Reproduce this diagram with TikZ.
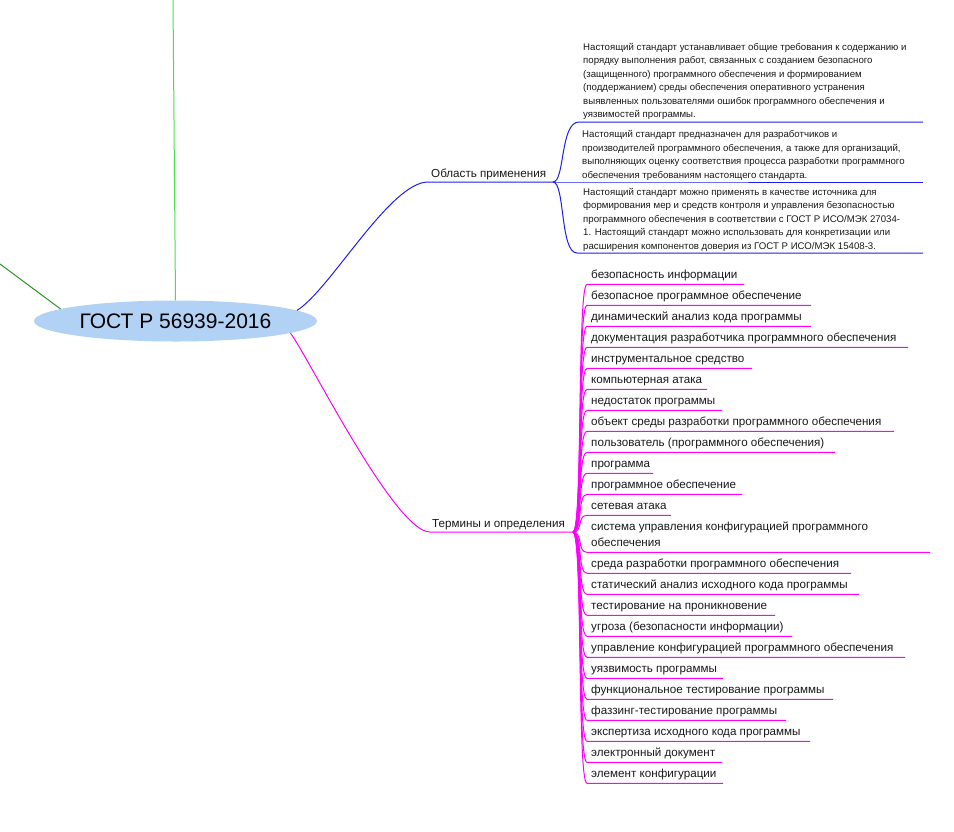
\documentclass[tikz,border=0pt]{standalone}
\usepackage{fontspec}
\setmainfont{Liberation Sans}
\usetikzlibrary{shapes.geometric}
\definecolor{bl}{RGB}{30,30,235}
\definecolor{mg}{RGB}{255,0,255}
\definecolor{lg}{RGB}{70,225,70}
\definecolor{dg}{RGB}{40,150,40}
\definecolor{ell}{RGB}{178,210,245}
\definecolor{txt}{RGB}{25,25,25}
\begin{document}
\begin{tikzpicture}[x=1pt,y=-1pt,
  rootnode/.style={ellipse, fill=ell, minimum width=283pt, minimum height=41pt, inner sep=0pt, font=\fontsize{21}{24}\selectfont, text=black},
  branchlabel/.style={anchor=base west, inner sep=0pt, font=\fontsize{11.65}{14}\selectfont, text=txt},
  termlabel/.style={anchor=base west, inner sep=0pt, font=\fontsize{11.65}{15.6}\selectfont, text=txt, align=left},
  notelabel/.style={anchor=base west, inner sep=0pt, font=\fontsize{9.65}{13.5}\selectfont, text=txt, align=left},
  blueedge/.style={draw=bl, line width=1pt},
  magedge/.style={draw=mg, line width=1pt},
]
\useasboundingbox (0,0) rectangle (954,831);
\node[rootnode] (root) at (175.5,321) {ГОСТ Р 56939-2016};
% green branches (leaving the picture)
\coordinate (g1) at (173,0);
\coordinate (g2) at (0,264);
\draw[lg, line width=1pt] (g1) -- (root.north);
\draw[dg, line width=1pt] (g2) -- (root.174);
% blue branch
\coordinate (bs) at (428,182);
\coordinate (bj) at (553,182);
\node[branchlabel] (obl) at (431,177) {Область применения};
\draw[blueedge] (root.5) .. controls (330,290) and (390,182) .. (bs) -- (bj);
\node[notelabel] (n1) at (583,117.5) {Настоящий стандарт устанавливает общие требования к содержанию и\\порядку выполнения работ, связанных с созданием безопасного\\(защищенного) программного обеспечения и формированием\\(поддержанием) среды обеспечения оперативного устранения\\выявленных пользователями ошибок программного обеспечения и\\уязвимостей программы.};
\node[notelabel] (n2) at (582,178) {Настоящий стандарт предназначен для разработчиков и\\производителей программного обеспечения, а также для организаций,\\выполняющих оценку соответствия процесса разработки программного\\обеспечения требованиям настоящего стандарта.};
\node[notelabel] (n3) at (583,249) {Настоящий стандарт можно применять в качестве источника для\\формирования мер и средств контроля и управления безопасностью\\программного обеспечения в соответствии с ГОСТ Р ИСО/МЭК 27034-\\1. Настоящий стандарт можно использовать для конкретизации или\\расширения компонентов доверия из ГОСТ Р ИСО/МЭК 15408-3.};
\coordinate (u1s) at (579,122); \coordinate (u1e) at (923,122);
\coordinate (u2s) at (577,182); \coordinate (u2e) at (923,182);
\coordinate (u3s) at (577,253); \coordinate (u3e) at (923,253);
\draw[blueedge] (bj) .. controls (565,182) and (560,122) .. (u1s) -- (u1e);
\draw[blueedge] (bj) -- (u2s) -- (u2e);
\draw[blueedge] (bj) .. controls (565,182) and (560,253) .. (u3s) -- (u3e);
% magenta branch
\coordinate (ms) at (430,532);
\coordinate (mj) at (573,532);
\node[branchlabel] (term) at (432,527) {Термины и определения};
\draw[magedge] (root.-6) .. controls (310,360) and (395,532) .. (ms) -- (mj);
\foreach \i/\y/\e/\t in {
  1/284.3/744/безопасность информации,
  2/305.3/811/безопасное программное обеспечение,
  3/326.3/811/динамический анализ кода программы,
  4/347.3/908/документация разработчика программного обеспечения,
  5/368.3/752/инструментальное средство,
  6/389.3/707/компьютерная атака,
  7/410.3/722/недостаток программы,
  8/431.3/894/объект среды разработки программного обеспечения,
  9/452.3/835/пользователь (программного обеспечения),
  10/473.3/653/программа,
  11/494.3/742/программное обеспечение,
  12/515.3/671/сетевая атака,
  14/573.3/851/среда разработки программного обеспечения,
  15/594.3/859/статический анализ исходного кода программы,
  16/615.3/775/тестирование на проникновение,
  17/636.3/792/угроза (безопасности информации),
  18/657.3/905/управление конфигурацией программного обеспечения,
  19/678.3/723/уязвимость программы,
  20/699.3/833/функциональное тестирование программы,
  21/720.3/786/фаззинг-тестирование программы,
  22/741.3/810/экспертиза исходного кода программы,
  23/762.3/722/электронный документ,
  24/783.3/723/элемент конфигурации}{
  \node[termlabel] (t\i) at (591,\y-6) {\t};
  \coordinate (ts\i) at (587,\y);
  \coordinate (te\i) at (\e,\y);
  \draw[magedge] (mj) .. controls (583,532) and (577,\y) .. (ts\i) -- (te\i);
}
\node[termlabel] (t13) at (591,546.3) {система управления конфигурацией программного\\обеспечения};
\coordinate (ts13) at (587,552.3);
\coordinate (te13) at (930,552.3);
\draw[magedge] (mj) .. controls (583,532) and (577,552.3) .. (ts13) -- (te13);
\end{tikzpicture}
\end{document}
